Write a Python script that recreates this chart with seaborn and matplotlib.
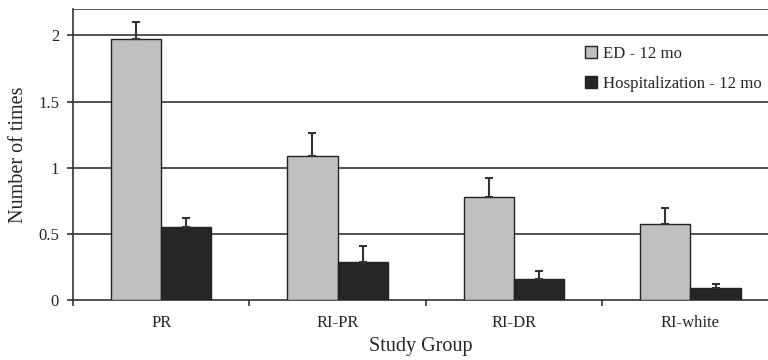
import numpy as np
import pandas as pd
import seaborn as sns
import matplotlib.pyplot as plt

# --- chart data ---
groups = ['PR', 'RI-PR', 'RI-DR', 'RI-white']
series = ['ED - 12 mo', 'Hospitalization - 12 mo']
ed_mean = [1.97, 1.09, 0.78, 0.575]
ed_upper = [2.10, 1.26, 0.92, 0.695]
hosp_mean = [0.55, 0.29, 0.155, 0.093]
hosp_upper = [0.62, 0.41, 0.22, 0.118]
y_ticks = [0, 0.5, 1, 1.5, 2]
y_tick_labels = ['0', '0.5', '1', '1.5', '2']

sns.set_style('white')
plt.rcParams['font.family'] = ['Liberation Serif', 'DejaVu Serif']

df = pd.DataFrame({
    'group': groups * 2,
    'series': [series[0]] * len(groups) + [series[1]] * len(groups),
    'value': ed_mean + hosp_mean,
})

fig = plt.figure(figsize=(7.68, 3.6), dpi=100)
ax = fig.add_axes([0.095, 0.167, 0.905, 0.808])

palette = {series[0]: '#c0c0c0', series[1]: '#262626'}
sns.barplot(data=df, x='group', y='value', hue='series', order=groups,
            hue_order=series, palette=palette, width=0.57, errorbar=None,
            edgecolor='#222222', linewidth=1.0, saturation=1, ax=ax, zorder=3)

# one-sided error bars, placed on the bar centres seaborn produced
bars = [p for p in ax.patches if p.get_height() > 0]
means = ed_mean + hosp_mean
uppers = ed_upper + hosp_upper
for p, m, u in zip(bars, means, uppers):
    cx = p.get_x() + p.get_width() / 2
    ax.errorbar([cx], [m], yerr=[[0], [u - m]], fmt='none', ecolor='#333333',
                elinewidth=1.5, capsize=3, capthick=1.5, zorder=4)

ax.set_yticks(y_ticks)
ax.set_yticklabels(y_tick_labels, fontsize=12)
ax.tick_params(axis='x', which='major', length=0, labelsize=12, pad=11)
ax.set_xticks(np.arange(-0.5, 4, 1), minor=True)
ax.tick_params(axis='x', which='minor', bottom=True, length=4, width=1.2,
               color='#333333', direction='out')
ax.tick_params(axis='y', left=True, length=4, width=1.2, color='#333333',
               direction='out', pad=6)
# limits after the ticks, since set_xticks widens the view
ax.set_ylim(0, 2.2)
ax.set_xlim(-0.5, 3.44)

for yv in y_ticks[1:] + [2.2]:
    ax.axhline(yv, color='#444444', linewidth=1.3, zorder=1)

for s in ['top', 'right']:
    ax.spines[s].set_visible(False)
ax.spines['left'].set_color('#333333')
ax.spines['bottom'].set_color('#333333')
ax.spines['left'].set_linewidth(1.2)
ax.spines['bottom'].set_linewidth(1.2)

ax.set_xlabel('Study Group', fontsize=14.5, labelpad=4)
ax.set_ylabel('Number of times', fontsize=14.5, labelpad=7)

leg = ax.legend(loc='upper left', bbox_to_anchor=(0.737, 0.872), frameon=False,
                fontsize=12.1, handlelength=0.7, handleheight=0.7, handletextpad=0.35,
                labelspacing=0.8, borderaxespad=0, borderpad=0)

fig.savefig('out.png', dpi=100)
